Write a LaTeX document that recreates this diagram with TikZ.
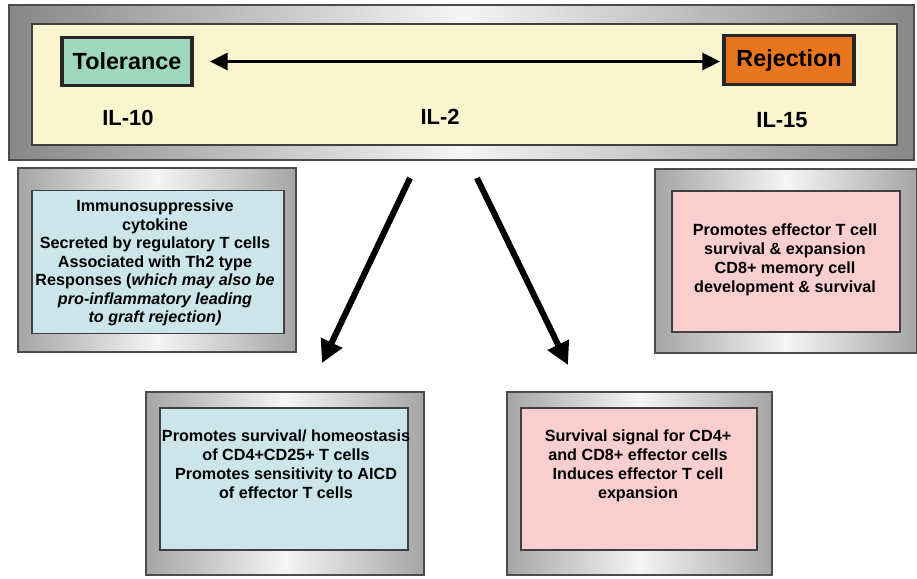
\documentclass[tikz,border=0pt]{standalone}
\usepackage{fontspec}
\setmainfont{Liberation Sans}
\usetikzlibrary{arrows.meta}

\definecolor{paleyellow}{RGB}{249,246,207}
\definecolor{tolgreen}{RGB}{158,214,190}
\definecolor{rejorange}{RGB}{232,118,30}
\definecolor{paleblue}{RGB}{204,229,234}
\definecolor{palepink}{RGB}{249,206,206}
\definecolor{frameedge}{RGB}{165,165,165}
\definecolor{topedge}{RGB}{135,135,135}

\tikzset{
  wh/.style 2 args={minimum width=#1*0.025cm, minimum height=#2*0.025cm},
  frame/.style={draw=black!70, line width=0.8pt, inner sep=0pt,
    left color=#1, right color=#1, middle color=white!96!black},
  frame/.default=frameedge,
  panel/.style={draw=black!75, line width=0.9pt, inner sep=0pt},
  statebox/.style={draw=black!85, line width=2.8pt, inner sep=0pt,
    font=\fontsize{16.6}{19}\selectfont\bfseries},
  cyto/.style={font=\fontsize{15.6}{18}\selectfont\bfseries},
  note/.style={align=center, font=\fontsize{11.5}{#1}\selectfont\bfseries},
  note/.default=13.5,
  bigarrow/.style={-{Triangle[length=16pt,width=16pt]}, line width=4.3pt},
}

\begin{document}
\begin{tikzpicture}[x=0.025cm, y=-0.025cm]
\useasboundingbox (0,0) rectangle (917,579);

%% ===================== Top bar: tolerance <-> rejection =====================
\node[frame=topedge, wh={905}{155}] (topframe) at (461.5,82.5) {};
\node[panel, fill=paleyellow, wh={865}{121}] (topbar) at (464.5,84.5) {};

\node[statebox, fill=tolgreen, wh={130}{48}] (tol) at (127,61.5) {Tolerance};
\node[statebox, fill=rejorange, wh={130}{49}] (rej) at (789,60) {Rejection};

% IL-2 sits on the balance between both outcomes
\draw[{Triangle[length=12.5pt,width=12pt]}-{Triangle[length=12.5pt,width=12pt]}, line width=2.3pt,
  shorten <=16*0.025cm, shorten >=2*0.025cm] (tol.east) -- (tol.east -| rej.west);

\node[cyto] (il10) at (128,118) {IL-10};
\node[cyto] (il2)  at (440,117) {IL-2};
\node[cyto] (il15) at (782,120) {IL-15};

%% ===================== IL-10 box (left) =====================
\node[frame, wh={278}{184}] (il10frame) at (157,260) {};
\node[panel, fill=paleblue, wh={252}{143}] (il10box) at (158,262) {};
\node[note=13.2] (il10txt) at (155,263) {Immunosuppressive\\ cytokine\\ Secreted by regulatory T cells\\
  Associated with Th2 type\\ Responses (\textit{which may also be}\\
  \textit{pro-inflammatory leading}\\ \textit{to graft rejection)}};

%% ===================== IL-15 box (right) =====================
\node[frame, wh={262}{184}] (il15frame) at (786,261) {};
\node[panel, fill=palepink, wh={228}{141}] (il15box) at (786,261.5) {};
\node[note=13.6] (il15txt) at (785,260) {Promotes effector T cell\\ survival \& expansion\\
  CD8+ memory cell\\ development \& survival};

%% ===================== IL-2 boxes (bottom) =====================
\node[frame, wh={278}{183}] (tregframe) at (285,483.5) {};
\node[panel, fill=paleblue, wh={248}{142}] (tregbox) at (284,479) {};
\node[note] (tregtxt) at (286,464.5)
  {Promotes survival/ homeostasis\\ of CD4+CD25+ T cells\\
   Promotes sensitivity to AICD\\ of effector T cells};

\node[frame, wh={265}{183}] (effframe) at (639.5,483.5) {};
\node[panel, fill=palepink, wh={236}{142}] (effbox) at (639,479) {};
\node[note] (efftxt) at (638,465.5) {Survival signal for CD4+\\ and CD8+ effector cells\\
  Induces effector T cell\\ expansion};

% arrows from IL-2 down to its two effects
\coordinate (lstart) at (410,178);
\coordinate (lend)   at (322,363);
\coordinate (rstart) at (477,178);
\coordinate (rend)   at (568,365);
\draw[bigarrow] (lstart) -- (lend);
\draw[bigarrow] (rstart) -- (rend);

\end{tikzpicture}
\end{document}
